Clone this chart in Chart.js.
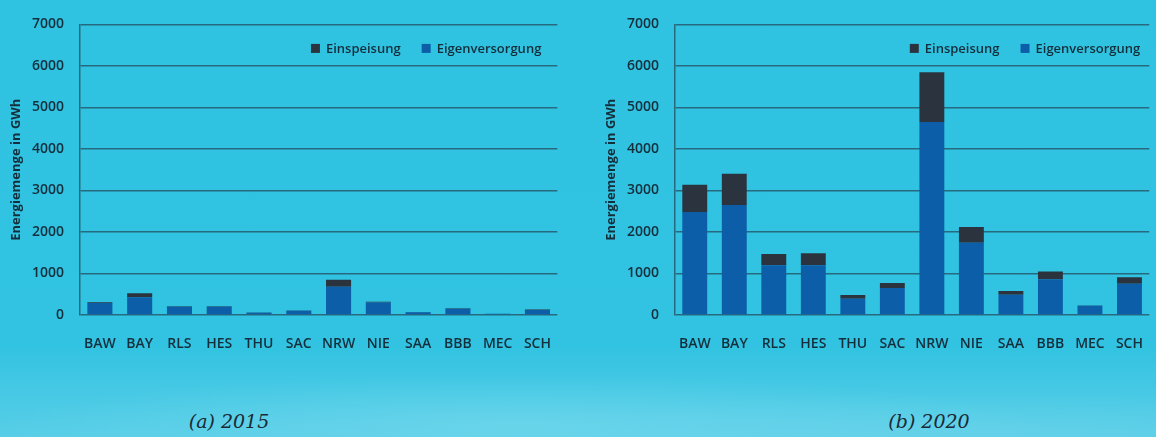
<!DOCTYPE html>
<html>
<head>
<meta charset="utf-8">
<script src="https://cdn.jsdelivr.net/npm/chart.js@4/dist/chart.umd.min.js"></script>
<style>
  html, body { margin: 0; padding: 0; }
  body {
    width: 1156px; height: 437px; overflow: hidden; position: relative;
    background:
      radial-gradient(ellipse 520px 50px at 520px 425px, rgba(130,222,240,0.45), rgba(130,222,240,0)),
      radial-gradient(ellipse 420px 40px at 1000px 430px, rgba(120,215,236,0.35), rgba(120,215,236,0)),
      linear-gradient(to bottom, #30c3e1 0px, #31c3e1 345px, #43c8e4 385px, #58cee7 437px);
  }
  .box { position: absolute; top: 0; height: 350px; }
  #c1 { left: 0; width: 564px; }
  #c2 { left: 595px; width: 561px; }
  .cap {
    position: absolute; top: 410px; font-family: "DejaVu Serif", serif; font-style: italic;
    font-size: 19px; color: #1b2a36; transform: translateX(-50%); white-space: nowrap;
  }
</style>
</head>
<body>
<div class="box" id="c1"><canvas id="chart1"></canvas></div>
<div class="box" id="c2"><canvas id="chart2"></canvas></div>
<div class="cap" style="left:229px">(a) 2015</div>
<div class="cap" style="left:929px">(b) 2020</div>
<script>
const categories = ["BAW", "BAY", "RLS", "HES", "THU", "SAC", "NRW", "NIE", "SAA", "BBB", "MEC", "SCH"];
const yTicks = [0, 1000, 2000, 3000, 4000, 5000, 6000, 7000];
const eigen2015 = [290, 430, 200, 200, 55, 100, 680, 300, 65, 150, 30, 120];
const einsp2015 = [15, 95, 10, 10, 8, 10, 170, 20, 5, 15, 3, 15];
const eigen2020 = [2480, 2650, 1200, 1200, 390, 650, 4650, 1740, 490, 860, 220, 750];
const einsp2020 = [660, 750, 270, 290, 90, 120, 1200, 380, 90, 190, 10, 160];

const BLUE = "#0c5ea8";
const DARK = "#2b343e";
const GRID = "#276a80";
const TXT = "#142e3b";
const FONT = "'Open Sans', sans-serif";

// Legend drawn inside the plot area, top right (items from the chart's datasets, reversed)
const insideLegend = {
  id: "insideLegend",
  afterDraw(chart, args, opts) {
    const ctx = chart.ctx;
    const area = chart.chartArea;
    const items = chart.data.datasets.slice().reverse();
    ctx.save();
    ctx.font = "600 13px " + FONT;
    ctx.textBaseline = "middle";
    ctx.textAlign = "left";
    const y = area.top + 24;
    let x = area.right - opts.rightGap;
    for (let i = items.length - 1; i >= 0; i--) {
      const ds = items[i];
      const w = ctx.measureText(ds.label).width;
      const tx = x - w;
      ctx.fillStyle = TXT;
      ctx.fillText(ds.label, tx, y + 0.5);
      ctx.fillStyle = ds.backgroundColor;
      ctx.fillRect(tx - 6 - 9, y - 4.5, 9, 9);
      x = tx - 6 - 9 - 21;
    }
    ctx.restore();
  }
};

function makeChart(id, eigen, einsp, rightGap) {
  return new Chart(document.getElementById(id), {
    type: "bar",
    data: {
      labels: categories,
      datasets: [
        { label: "Eigenversorgung", data: eigen, backgroundColor: BLUE, borderWidth: 0 },
        { label: "Einspeisung", data: einsp, backgroundColor: DARK, borderWidth: 0 }
      ]
    },
    plugins: [insideLegend],
    options: {
      responsive: true,
      maintainAspectRatio: false,
      animation: false,
      layout: { padding: { top: 17, right: 0, left: 0, bottom: 0 } },
      datasets: { bar: { barPercentage: 0.63, categoryPercentage: 1 } },
      plugins: {
        tooltip: { enabled: false },
        legend: { display: false },
        insideLegend: { rightGap: rightGap }
      },
      scales: {
        x: {
          stacked: true,
          grid: { display: false },
          border: { display: false },
          ticks: { color: TXT, padding: 13, font: { family: FONT, size: 14, weight: "600" }, maxRotation: 0 },
          afterFit: s => { s.height = 35; }
        },
        y: {
          stacked: true,
          min: 0, max: 7000,
          afterBuildTicks: s => { s.ticks = yTicks.map(v => ({ value: v })); },
          grid: { color: GRID, lineWidth: 1.5, drawTicks: false },
          border: { display: true, color: GRID, width: 1.5 },
          ticks: {
            color: TXT, padding: 16, font: { family: FONT, size: 14, weight: "600" },
            callback: v => String(v)
          },
          title: {
            display: true, text: "Energiemenge in GWh", color: TXT,
            padding: { top: 8, bottom: 0 },
            font: { family: FONT, size: 13, weight: "bold" }
          },
          afterFit: s => { s.width = 80; }
        }
      }
    }
  });
}
makeChart("chart1", eigen2015, einsp2015, 16);
makeChart("chart2", eigen2020, einsp2020, 9);
</script>
</body>
</html>
